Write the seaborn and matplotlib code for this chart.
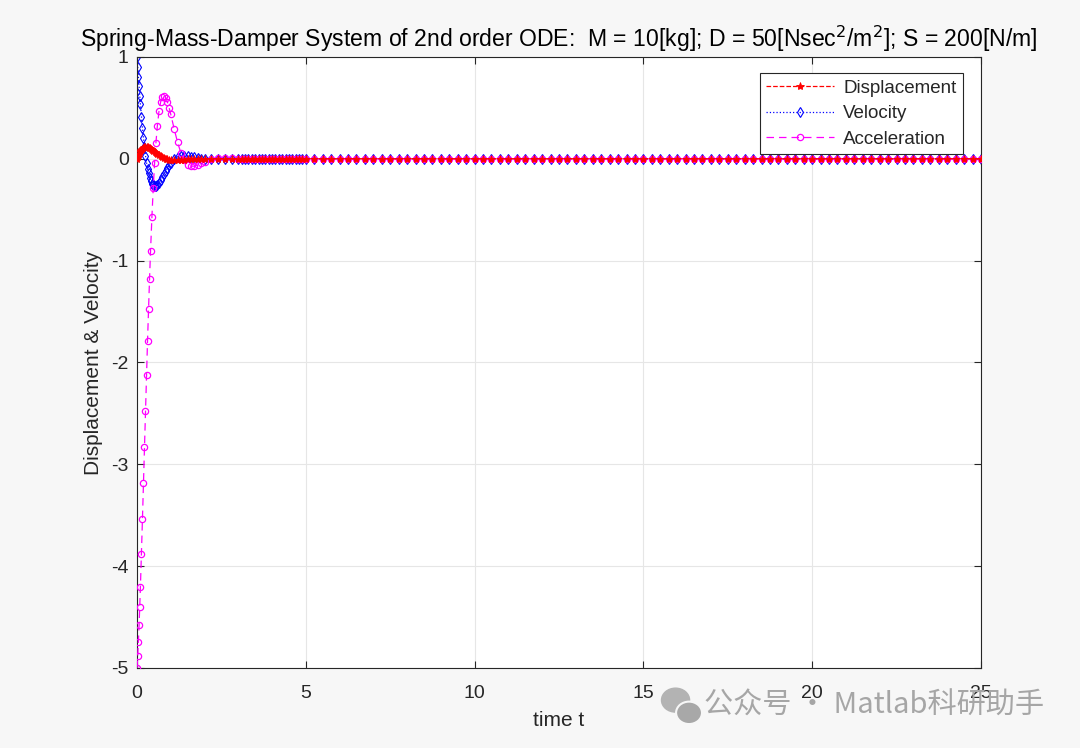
import numpy as np
import pandas as pd
import matplotlib
matplotlib.use('Agg')
import matplotlib.pyplot as plt
from matplotlib.patches import Ellipse
import seaborn as sns

# Значения (переходный процесс + хвост около нуля)
t_start = [0, 0.02, 0.04, 0.06, 0.08, 0.1, 0.13, 0.16, 0.19, 0.22, 0.25, 0.28,
           0.31, 0.34, 0.37, 0.4, 0.44, 0.48, 0.52, 0.56, 0.6, 0.65, 0.7, 0.75,
           0.8, 0.85, 0.9, 0.95, 1.0, 1.1, 1.2, 1.3, 1.4, 1.5, 1.6, 1.7, 1.8,
           1.9, 2.0, 2.2, 2.4, 2.6, 2.8, 3.0]
disp_start = [0, 0.0190, 0.0361, 0.0512, 0.0645, 0.0761, 0.0903, 0.1011, 0.1086,
              0.1133, 0.1155, 0.1154, 0.1134, 0.1098, 0.1048, 0.0988, 0.0896,
              0.0795, 0.0689, 0.0582, 0.0478, 0.0354, 0.0243, 0.0146, 0.0064,
              -0.0003, -0.0055, -0.0093, -0.0119, -0.0139, -0.0130, -0.0104,
              -0.0072, -0.0042, -0.0017, 0.0001, 0.0011, 0.0016, 0.0016, 0.0011,
              0.0003, -0.0001, -0.0002, -0.0001]
vel_start = [1.0, 0.9011, 0.8048, 0.7115, 0.6216, 0.5356, 0.4144, 0.3031, 0.2026,
             0.1120, 0.0326, -0.0363, -0.0952, -0.1441, -0.1838, -0.2146, -0.2442,
             -0.2612, -0.2675, -0.2648, -0.2550, -0.2353, -0.2093, -0.1800, -0.1492,
             -0.1186, -0.0896, -0.0631, -0.0396, -0.0030, 0.0194, 0.0302, 0.0320,
             0.0281, 0.0215, 0.0141, 0.0074, 0.0023, -0.0013, -0.0038, -0.0030,
             -0.0013, 0.0000, 0.0004]
acc_start = [-5.0, -4.8856, -4.7450, -4.5816, -4.3989, -4.2002, -3.8785, -3.5368,
             -3.1842, -2.8266, -2.4722, -2.1258, -1.7921, -1.4749, -1.1776, -0.9034,
             -0.5712, -0.2831, -0.0397, 0.1599, 0.3187, 0.4679, 0.5604, 0.6074,
             0.6186, 0.5996, 0.5584, 0.5017, 0.4354, 0.2931, 0.1623, 0.0569,
             -0.0159, -0.0571, -0.0731, -0.0719, -0.0599, -0.0435, -0.0266, -0.0019,
             0.0081, 0.0080, 0.0041, 0.0008]

t_tail = [3.1, 3.2, 3.3, 3.4, 3.5, 3.6, 3.7, 3.8, 3.9, 4.0, 4.1, 4.2, 4.3, 4.4,
          4.5, 4.6, 4.7, 4.8, 4.9, 5.0, 5.25, 5.5, 5.75, 6.0, 6.25, 6.5, 6.75,
          7.0, 7.25, 7.5, 7.75, 8.0, 8.25, 8.5, 8.75, 9.0, 9.25, 9.5, 9.75, 10.0,
          10.25, 10.5, 10.75, 11.0, 11.25, 11.5, 11.75, 12.0, 12.25, 12.5, 12.75,
          13.0, 13.25, 13.5, 13.75, 14.0, 14.25, 14.5, 14.75, 15.0, 15.25, 15.5,
          15.75, 16.0, 16.25, 16.5, 16.75, 17.0, 17.25, 17.5, 17.75, 18.0, 18.25,
          18.5, 18.75, 19.0, 19.25, 19.5, 19.75, 20.0, 20.25, 20.5, 20.75, 21.0,
          21.25, 21.5, 21.75, 22.0, 22.25, 22.5, 22.75, 23.0, 23.25, 23.5, 23.75,
          24.0, 24.25, 24.5, 24.75, 25.0]
zeros_tail = [0.0] * len(t_tail)

time = t_start + t_tail
displacement = disp_start + zeros_tail
velocity = vel_start + zeros_tail
acceleration = acc_start + zeros_tail

df = pd.DataFrame({'t': time, 'x': displacement, 'v': velocity, 'a': acceleration})

sns.set_theme(style='white')
plt.rcParams['font.family'] = ['Liberation Sans', 'DejaVu Sans']
plt.rcParams['axes.unicode_minus'] = False

fig = plt.figure(figsize=(10.8, 7.48), dpi=100, facecolor='#f7f7f7')
ax = fig.add_axes([0.1269, 0.107, 0.7814, 0.8168])
ax.set_facecolor('white')

# порядок рисования: скорость, ускорение, перемещение сверху
sns.lineplot(data=df, x='t', y='v', ax=ax, color='blue', linestyle=':', marker='d',
             markersize=5, markerfacecolor='none', markeredgecolor='blue',
             markeredgewidth=0.8, linewidth=0.9, label='Velocity', zorder=2)
sns.lineplot(data=df, x='t', y='a', ax=ax, color='magenta', linestyle=(0, (6, 4)),
             marker='o', markersize=4.5, markerfacecolor='none',
             markeredgecolor='magenta', markeredgewidth=0.9, linewidth=0.9,
             label='Acceleration', zorder=3)
sns.lineplot(data=df, x='t', y='x', ax=ax, color='red', linestyle='--', marker='*',
             markersize=6, markerfacecolor='red', markeredgecolor='red',
             markeredgewidth=0.6, linewidth=0.9, label='Displacement', zorder=4)

ax.set_xlim(0, 25)
ax.set_ylim(-5, 1)
ax.set_xticks([0, 5, 10, 15, 20, 25])
ax.set_yticks([-5, -4, -3, -2, -1, 0, 1])
ax.grid(True, color='#e6e6e6', linewidth=0.8)
ax.tick_params(direction='in', length=5, width=0.8, colors='#262626', labelsize=14,
               top=True, right=True, bottom=True, left=True, pad=6)
ax.tick_params(axis='x', pad=12)
for s in ax.spines.values():
    s.set_color('#262626')
    s.set_linewidth(0.8)

ax.set_xlabel('time t', fontsize=15, color='#262626', labelpad=7)
ax.set_ylabel('Displacement & Velocity', fontsize=15, color='#262626', labelpad=6)
ax.set_title('Spring-Mass-Damper System of 2nd order ODE:  M = 10[kg]; '
             'D = 50[Nsec$^2$/m$^2$]; S = 200[N/m]',
             fontsize=16.6, color='black', pad=7)

handles, labels = ax.get_legend_handles_labels()
order = [labels.index('Displacement'), labels.index('Velocity'),
         labels.index('Acceleration')]
leg = ax.legend([handles[i] for i in order], [labels[i] for i in order],
                loc='upper right', bbox_to_anchor=(0.9787, 0.974), borderaxespad=0,
                fontsize=13.5, frameon=True, fancybox=False, edgecolor='#262626',
                framealpha=1, handlelength=3.6, borderpad=0.35, labelspacing=0.45,
                handletextpad=0.5)
leg.get_frame().set_linewidth(0.8)

# водяной знак
fig.patches.append(Ellipse((0.6255, 0.064), 0.026, 0.032, transform=fig.transFigure,
                           color='#b3b3b3', zorder=5))
fig.patches.append(Ellipse((0.638, 0.047), 0.024, 0.030, transform=fig.transFigure,
                           color='#a8a8a8', ec='#f7f7f7', lw=1.5, zorder=6))
fig.text(0.652, 0.057, '公众号 · Matlab科研助手', fontsize=21, color='#a6a6a6',
         va='center', family=['Noto Sans CJK SC', 'DejaVu Sans'])

fig.savefig('out.png', dpi=100, facecolor=fig.get_facecolor())
